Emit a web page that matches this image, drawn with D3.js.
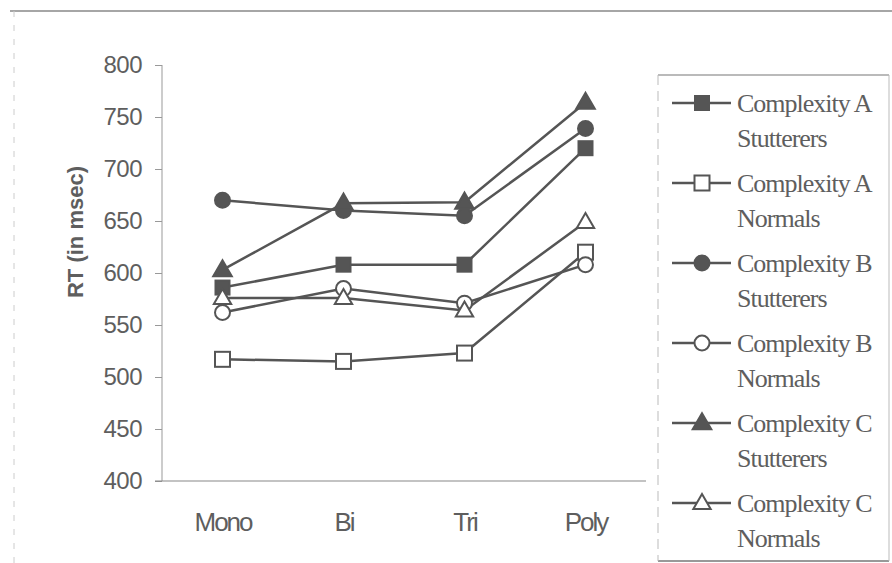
<!DOCTYPE html>
<html>
<head>
<meta charset="utf-8">
<script src="https://cdn.jsdelivr.net/npm/d3@7"></script>
<style>
  html, body { margin: 0; padding: 0; background: #fff; }
  svg { display: block; }
</style>
</head>
<body>
<svg id="chart" width="892" height="563"></svg>
<script>
// ---- data ----
const categories = ["Mono", "Bi", "Tri", "Poly"];
const yTicks = [400, 450, 500, 550, 600, 650, 700, 750, 800];
const seriesNames = [
  ["Complexity A", "Stutterers"],
  ["Complexity A", "Normals"],
  ["Complexity B", "Stutterers"],
  ["Complexity B", "Normals"],
  ["Complexity C", "Stutterers"],
  ["Complexity C", "Normals"]
];
const seriesShapes = ["square", "square", "circle", "circle", "triangle", "triangle"];
const seriesFilled = [true, false, true, false, true, false];
const aStutterers = [586, 608, 608, 720];
const aNormals    = [517, 515, 523, 620];
const bStutterers = [670, 660, 655, 739];
const bNormals    = [562, 585, 571, 608];
const cStutterers = [603, 667, 668, 764];
const cNormals    = [576, 576, 564, 649];
const seriesValues = [aStutterers, aNormals, bStutterers, bNormals, cStutterers, cNormals];

// ---- layout ----
const svg = d3.select("#chart");
const plot = { left: 162, right: 646, top: 65, bottom: 481 };
const ink = "#555";
const textInk = "#5e5e5e";

const x = d3.scalePoint().domain(categories).range([plot.left, plot.right]).padding(0.5);
const y = d3.scaleLinear().domain([400, 800]).range([plot.bottom, plot.top]);

// outer frame lines
svg.append("line").attr("x1", 10).attr("x2", 892).attr("y1", 11).attr("y2", 11)
  .attr("stroke", "#888").attr("stroke-width", 1.5);
svg.append("line").attr("x1", 14).attr("x2", 14).attr("y1", 11).attr("y2", 563)
  .attr("stroke", "#ccc").attr("stroke-width", 1).attr("stroke-dasharray", "6,8");

// y axis
const yAxis = d3.axisLeft(y).tickValues(yTicks).tickSize(7).tickPadding(13).tickFormat(d3.format("d"));
const gy = svg.append("g").attr("transform", `translate(${plot.left},0)`).call(yAxis);
gy.select(".domain").attr("stroke", "#999").attr("stroke-width", 1).attr("d", `M0,${plot.top}V${plot.bottom}`);
gy.selectAll(".tick line").attr("stroke", "#999");
gy.selectAll(".tick text").attr("fill", textInk)
  .style("font-family", "'Liberation Sans', Arial, sans-serif").style("font-size", "24px")
  .style("letter-spacing", "-0.5px");

// x axis
const xAxis = d3.axisBottom(x).tickSize(0).tickPadding(32);
const gx = svg.append("g").attr("transform", `translate(0,${plot.bottom})`).call(xAxis);
gx.select(".domain").attr("stroke", "#888").attr("stroke-width", 1.2).attr("d", `M${plot.left - 7},0H${plot.right}`);
gx.selectAll(".tick text").attr("fill", textInk)
  .style("font-family", "'Liberation Sans', Arial, sans-serif").style("font-size", "26px")
  .style("letter-spacing", "-2px");

// y title
svg.append("text")
  .attr("transform", `translate(83,232) rotate(-90)`)
  .attr("text-anchor", "middle")
  .attr("fill", textInk)
  .style("font-family", "'Liberation Sans', Arial, sans-serif")
  .style("font-size", "22px").style("font-weight", "bold")
  .text("RT (in msec)");

// marker drawing
function drawMarker(g, shape, filled, cx, cy) {
  const fill = filled ? ink : "#fff";
  if (shape === "square") {
    const s = filled ? 14 : 15;
    g.append("rect").attr("x", cx - s / 2).attr("y", cy - s / 2).attr("width", s).attr("height", s)
      .attr("fill", fill).attr("stroke", ink).attr("stroke-width", 2);
  } else if (shape === "circle") {
    g.append("circle").attr("cx", cx).attr("cy", cy).attr("r", 7.5)
      .attr("fill", fill).attr("stroke", ink).attr("stroke-width", 2);
  } else {
    const sym = d3.symbol().type(d3.symbolTriangle).size(filled ? 150 : 130);
    g.append("path").attr("d", sym()).attr("transform", `translate(${cx},${cy + 1})`)
      .attr("fill", fill).attr("stroke", ink).attr("stroke-width", 2);
  }
}

// series lines + markers
const line = d3.line().x((d, i) => x(categories[i])).y(d => y(d));
const gLines = svg.append("g");
seriesValues.forEach((vals) => {
  gLines.append("path").attr("d", line(vals)).attr("fill", "none")
    .attr("stroke", ink).attr("stroke-width", 2.5);
});
const gMarks = svg.append("g");
seriesValues.forEach((vals, si) => {
  vals.forEach((v, i) => drawMarker(gMarks, seriesShapes[si], seriesFilled[si], x(categories[i]), y(v)));
});

// legend
const lg = { left: 658, top: 75, right: 889, bottom: 561 };
svg.append("line").attr("x1", lg.left).attr("x2", lg.right).attr("y1", lg.top).attr("y2", lg.top)
  .attr("stroke", "#777").attr("stroke-width", 1.2);
svg.append("line").attr("x1", lg.left).attr("x2", lg.right).attr("y1", lg.bottom).attr("y2", lg.bottom)
  .attr("stroke", "#777").attr("stroke-width", 1.5);
svg.append("line").attr("x1", lg.left).attr("x2", lg.left).attr("y1", lg.top).attr("y2", lg.bottom)
  .attr("stroke", "#bbb").attr("stroke-width", 1).attr("stroke-dasharray", "10,6");
svg.append("line").attr("x1", lg.right).attr("x2", lg.right).attr("y1", lg.top).attr("y2", lg.bottom)
  .attr("stroke", "#bbb").attr("stroke-width", 1);

const legendY = d3.scaleLinear().domain([0, 5]).range([103, 503]);
const gLeg = svg.append("g");
seriesNames.forEach((names, si) => {
  const cy = legendY(si);
  gLeg.append("line").attr("x1", 672).attr("x2", 731).attr("y1", cy).attr("y2", cy)
    .attr("stroke", ink).attr("stroke-width", 2.5);
  drawMarker(gLeg, seriesShapes[si], seriesFilled[si], 702, cy);
  names.forEach((t, li) => {
    gLeg.append("text").attr("x", 737).attr("y", cy + li * 35 + 9)
      .attr("fill", textInk)
      .style("font-family", "'Liberation Serif', 'Times New Roman', serif")
      .style("font-size", "26px").style("letter-spacing", "-1px")
      .text(t);
  });
});
</script>
</body>
</html>
